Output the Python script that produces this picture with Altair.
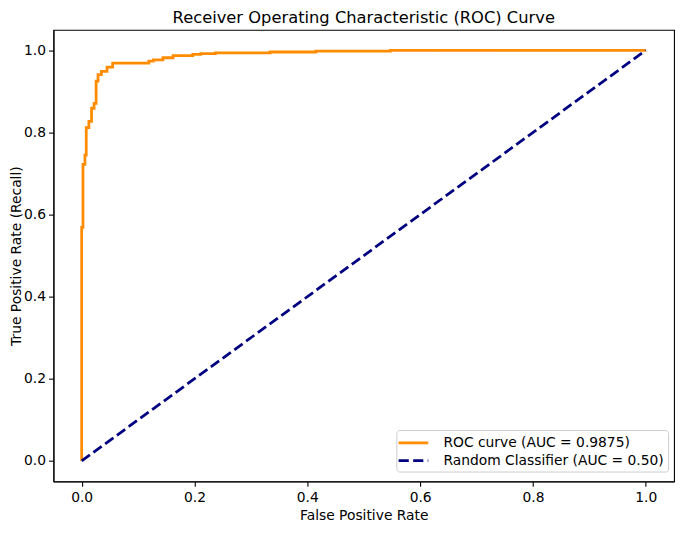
import altair as alt
import pandas as pd

# ROC curve corner points
roc_fpr = [0.0, 0.0, 0.0023, 0.0023, 0.0058, 0.0058, 0.0081, 0.0081, 0.0128, 0.0128,
           0.0175, 0.0175, 0.022, 0.022, 0.0256, 0.0256, 0.029, 0.029, 0.035, 0.035,
           0.045, 0.045, 0.055, 0.055, 0.119, 0.119, 0.127, 0.127, 0.144, 0.144,
           0.162, 0.162, 0.197, 0.197, 0.211, 0.211, 0.237, 0.237, 0.334, 0.334,
           0.415, 0.415, 0.547, 0.547, 1.0]
roc_tpr = [0.0, 0.569, 0.569, 0.722, 0.722, 0.745, 0.745, 0.812, 0.812, 0.827,
           0.827, 0.859, 0.859, 0.871, 0.871, 0.925, 0.925, 0.941, 0.941, 0.949,
           0.949, 0.959, 0.959, 0.969, 0.969, 0.974, 0.974, 0.977, 0.977, 0.982,
           0.982, 0.987, 0.987, 0.990, 0.990, 0.992, 0.992, 0.994, 0.994, 0.996,
           0.996, 0.998, 0.998, 1.0, 1.0]
diag_fpr = [0.0, 1.0]
diag_tpr = [0.0, 1.0]

series_names = ["ROC curve (AUC = 0.9875)", "Random Classifier (AUC = 0.50)"]
series_colors = ["#ff8c00", "#000080"]
series_dashes = [[1, 0], [10.3, 4.4]]
tick_values = [0.0, 0.2, 0.4, 0.6, 0.8, 1.0]

rows = []
for i, (f, t) in enumerate(zip(roc_fpr, roc_tpr)):
    rows.append({"fpr": f, "tpr": t, "series": series_names[0], "idx": i})
for i, (f, t) in enumerate(zip(diag_fpr, diag_tpr)):
    rows.append({"fpr": f, "tpr": t, "series": series_names[1], "idx": i})
df = pd.DataFrame(rows)

FONT = "DejaVu Sans"

legend = alt.Legend(
    title=None,
    orient="none",
    legendX=347,
    legendY=405,
    fillColor="white",
    strokeColor="#cccccc",
    cornerRadius=3,
    padding=4,
    labelFontSize=14,
    labelFont=FONT,
    labelColor="black",
    symbolType="M-2,0H2",
    symbolSize=225,
    symbolStrokeWidth=2.8,
    symbolOffset=4.3,
    rowPadding=2,
    labelOffset=21.3,
    labelLimit=400,
)

chart = alt.Chart(df).mark_line(strokeWidth=2.8).encode(
    x=alt.X("fpr:Q",
            scale=alt.Scale(domain=[-0.05, 1.05], nice=False, zero=False),
            axis=alt.Axis(values=tick_values, format=".1f", title="False Positive Rate")),
    y=alt.Y("tpr:Q",
            scale=alt.Scale(domain=[-0.05, 1.05], nice=False, zero=False),
            axis=alt.Axis(values=tick_values, format=".1f", title="True Positive Rate (Recall)")),
    color=alt.Color("series:N", scale=alt.Scale(domain=series_names, range=series_colors), legend=legend),
    strokeDash=alt.StrokeDash("series:N", scale=alt.Scale(domain=series_names, range=series_dashes), legend=legend),
    order="idx:Q",
).properties(
    width=628,
    height=457,
    autosize=alt.AutoSizeParams(type="none"),
    padding={"left": 46, "top": 19, "right": 3, "bottom": 41},
    title=alt.TitleParams(
        "Receiver Operating Characteristic (ROC) Curve",
        fontSize=16.5, fontWeight="normal", font=FONT, color="black",
        offset=3, anchor="middle",
    ),
).configure_view(
    stroke="black", strokeWidth=1.1
).configure_axis(
    grid=False,
    domainColor="black",
    domainWidth=1.1,
    tickColor="black",
    tickWidth=1.1,
    tickSize=5,
    labelFont=FONT,
    labelFontSize=14,
    labelColor="black",
    labelPadding=4,
    titleFont=FONT,
    titleFontSize=14,
    titleFontWeight="normal",
    titleColor="black",
).configure_axisX(titlePadding=5).configure_axisY(titlePadding=0, labelPadding=3)

chart.save("out.html", embed_options={"renderer": "svg", "actions": False})
